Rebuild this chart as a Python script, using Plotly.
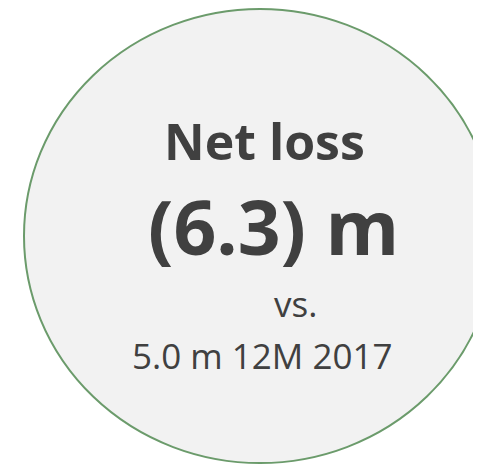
import plotly.graph_objects as go

labels = ["Net loss", "(6.3) m", "vs.", "5.0 m 12M 2017"]
bold = [True, True, False, False]

W, H = 481, 464
OFF = 8  # page body margin; axis units equal screen pixels
fig = go.Figure()

fig.add_trace(go.Scatter(x=[OFF, W + OFF], y=[OFF, H + OFF], mode="markers",
                         marker=dict(opacity=0), hoverinfo="skip", showlegend=False))

fig.add_shape(type="circle", xref="x", yref="y",
              x0=24, x1=496, y0=9, y1=463,
              fillcolor="#F2F2F2", line=dict(color="#6B9B6B", width=2), layer="below")

pos_x = [264, 273, 295, 262]
pos_y = [141, 226, 303, 355]
sizes = [50, 75, 35, 35]

for t, b, x, y, s in zip(labels, bold, pos_x, pos_y, sizes):
    fig.add_annotation(x=x, y=y, xref="x", yref="y",
                       text=f"<b>{t}</b>" if b else t, showarrow=False,
                       xanchor="center", yanchor="middle",
                       font=dict(family="Open Sans", size=s, color="#404040"))

fig.update_xaxes(range=[OFF, W + OFF], visible=False, fixedrange=True)
fig.update_yaxes(range=[H + OFF, OFF], visible=False, fixedrange=True)
fig.update_layout(width=W, height=H, margin=dict(l=0, r=0, t=0, b=0),
                  plot_bgcolor="white", paper_bgcolor="white", showlegend=False)
fig.write_html("out.html")
